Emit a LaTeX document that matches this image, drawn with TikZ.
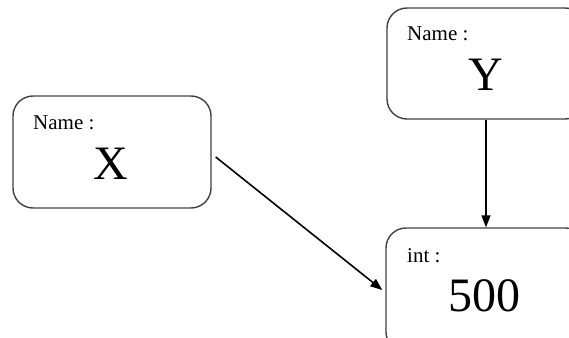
\documentclass[tikz,border=0pt]{standalone}
\usepackage{fontspec}
\setmainfont{Liberation Serif}
\usetikzlibrary{arrows.meta}
\begin{document}
\begin{tikzpicture}[x=1pt,y=-1pt,
  box/.style={draw=black!75,line width=1.4pt,rounded corners=20pt,inner sep=0pt},
  lbl/.style={anchor=base west,inner sep=0pt,font=\fontsize{21}{24}\selectfont},
  big/.style={anchor=base,inner sep=0pt,font=\fontsize{48}{52}\selectfont},
  arr/.style={draw=black,line width=1.6pt,-{Triangle[length=12pt,width=9pt]}}]
\useasboundingbox (0,0) rectangle (569,337);
\clip (0,0) rectangle (569,337);
% boxes
\node[box,minimum width=198pt,minimum height=112pt] (bx) at (112,152) {};
\node[box,minimum width=198pt,minimum height=111pt] (by) at (486,63.5) {};
\node[box,minimum width=200pt,minimum height=124pt] (bi) at (486,290) {};
% texts
\node[lbl] (nx) at (33,129) {Name :};
\node[big] (tx) at (111,179) {X};
\node[lbl] (ny) at (407,41) {Name :};
\node[big] (ty) at (486,90) {Y};
\node[lbl] (ni) at (407,262) {int :};
\node[big] (ti) at (484,311) {500};
% connectors
\draw[arr] ([xshift=4pt,yshift=-5pt]bx.east) -- ([xshift=-3pt]bi.west);
\draw[arr] (by.south) -- (bi.north);
\end{tikzpicture}
\end{document}
